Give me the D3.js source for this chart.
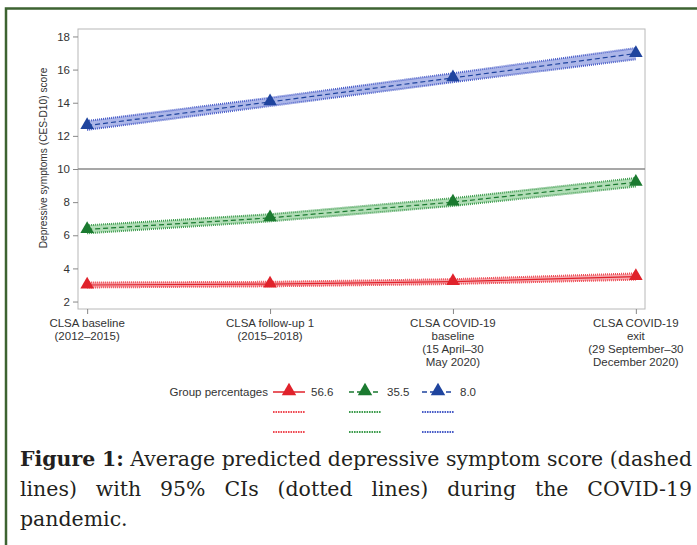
<!DOCTYPE html>
<html>
<head>
<meta charset="utf-8">
<script src="https://cdn.jsdelivr.net/npm/d3@7"></script>
<style>
  html, body { margin: 0; padding: 0; background: #fff; }
  svg { display: block; }
</style>
</head>
<body>
<svg id="chart" width="697" height="545"></svg>
<script>
// ---- data ----
const categories = ["CLSA baseline", "CLSA follow-up 1", "CLSA COVID-19 baseline", "CLSA COVID-19 exit"];
const categoryLines = [
  ["CLSA baseline", "(2012–2015)"],
  ["CLSA follow-up 1", "(2015–2018)"],
  ["CLSA COVID-19", "baseline", "(15 April–30", "May 2020)"],
  ["CLSA COVID-19", "exit", "(29 September–30", "December 2020)"]
];
const yTicks = [2, 4, 6, 8, 10, 12, 14, 16, 18];
const groupNames = ["56.6", "35.5", "8.0"];

const redMean  = [3.0, 3.05, 3.2, 3.5];
const redLow   = [2.85, 2.92, 3.06, 3.32];
const redHigh  = [3.15, 3.19, 3.35, 3.7];

const greenMean = [6.35, 7.05, 8.0, 9.2];
const greenLow  = [6.12, 6.84, 7.77, 8.94];
const greenHigh = [6.6, 7.27, 8.24, 9.46];

const blueMean = [12.62, 14.05, 15.5, 16.97];
const blueLow  = [12.36, 13.8, 15.24, 16.62];
const blueHigh = [12.9, 14.3, 15.78, 17.3];

const captionBold = ["Figure", "1:"];
const captionLines = [
  "Average predicted depressive symptom score (dashed",
  "lines) with 95% CIs (dotted lines) during the COVID-19",
  "pandemic."
];
const yLabel = "Depressive symptoms (CES-D10) score";
const legendTitle = "Group percentages";

// ---- styles ----
const series = [
  { name: groupNames[0], mean: redMean, low: redLow, high: redHigh, dark: "#e0222b", band: "#f5a0a5", edge: "#ee4a53", dash: null },
  { name: groupNames[1], mean: greenMean, low: greenLow, high: greenHigh, dark: "#1b7a30", band: "#a8d9ae", edge: "#3f9c4f", dash: "5,3" },
  { name: groupNames[2], mean: blueMean, low: blueLow, high: blueHigh, dark: "#1f449e", band: "#a3aee6", edge: "#4a5ec8", dash: "5,3" }
];

const svg = d3.select("#chart");
const W = 697, H = 545;
const plot = { left: 78, right: 645, top: 29, bottom: 309 };

// outer frame (green)
svg.append("path")
  .attr("d", `M6,${H} L6,8.5 L${W},8.5`)
  .attr("fill", "none").attr("stroke", "#3d6331").attr("stroke-width", 2.5);

const x = d3.scalePoint().domain(categories).range([plot.left, plot.right]).padding(0.05);
const y = d3.scaleLinear().domain([1.55, 18.45]).range([plot.bottom, plot.top]);

// plot frame
svg.append("rect")
  .attr("x", plot.left).attr("y", plot.top)
  .attr("width", plot.right - plot.left).attr("height", plot.bottom - plot.top)
  .attr("fill", "none").attr("stroke", "#b8b8b8").attr("stroke-width", 1);

// y axis
const yAxis = d3.axisLeft(y).tickValues(yTicks).tickSize(5).tickPadding(3);
const gy = svg.append("g").attr("transform", `translate(${plot.left},0)`).call(yAxis);
gy.select(".domain").remove();
gy.selectAll("line").attr("stroke", "#888");
gy.selectAll("text").attr("font-family", "Liberation Sans, Arial, sans-serif").attr("font-size", 11.5).attr("fill", "#333");

// x axis
const xAxis = d3.axisBottom(x).tickSize(5).tickFormat("");
const gx = svg.append("g").attr("transform", `translate(0,${plot.bottom})`).call(xAxis);
gx.select(".domain").remove();
gx.selectAll("line").attr("stroke", "#888");
categories.forEach((c, i) => {
  const t = svg.append("text")
    .attr("x", x(c)).attr("y", 327)
    .attr("text-anchor", "middle")
    .attr("font-family", "Liberation Sans, Arial, sans-serif")
    .attr("font-size", 11.5).attr("fill", "#333");
  categoryLines[i].forEach((ln, j) => {
    t.append("tspan").attr("x", x(c)).attr("dy", j === 0 ? 0 : 13).text(ln);
  });
});

// y label
svg.append("text")
  .attr("transform", `translate(47,158) rotate(-90)`)
  .attr("text-anchor", "middle")
  .attr("font-family", "Liberation Sans, Arial, sans-serif")
  .attr("font-size", 10.2).attr("fill", "#333")
  .text(yLabel);

// reference line at 10
svg.append("line")
  .attr("x1", plot.left).attr("x2", plot.right)
  .attr("y1", y(10)).attr("y2", y(10))
  .attr("stroke", "#8a8a8a").attr("stroke-width", 1.5);

// series
const line = d3.line().x(d => x(d[0])).y(d => y(d[1]));
const area = d3.area().x(d => x(d[0])).y0(d => y(d[1])).y1(d => y(d[2]));
series.forEach(s => {
  const pts = categories.map((c, i) => [c, s.low[i], s.high[i]]);
  svg.append("path").attr("d", area(pts)).attr("fill", s.band).attr("opacity", 0.9);
  [s.low, s.high].forEach(arr => {
    svg.append("path").attr("d", line(categories.map((c, i) => [c, arr[i]])))
      .attr("fill", "none").attr("stroke", s.edge).attr("stroke-width", 2)
      .attr("stroke-dasharray", "1,1");
  });
  const m = svg.append("path").attr("d", line(categories.map((c, i) => [c, s.mean[i]])))
    .attr("fill", "none").attr("stroke", s.dark).attr("stroke-width", 1.2);
  if (s.dash) m.attr("stroke-dasharray", s.dash);
  svg.selectAll(null).data(categories).enter().append("path")
    .attr("d", d3.symbol(d3.symbolTriangle, 80)())
    .attr("transform", (c, i) => `translate(${x(c)},${y(s.mean[i]) - 0.5})`)
    .attr("fill", s.dark);
});

// legend
const lg = svg.append("g").attr("font-family", "Liberation Sans, Arial, sans-serif").attr("font-size", 11.5).attr("fill", "#333");
lg.append("text").attr("x", 268).attr("y", 396).attr("text-anchor", "end").text(legendTitle);
const legendX = d3.scaleOrdinal().domain(groupNames).range([273, 349, 422]);
series.forEach(s => {
  const x0 = legendX(s.name), x1 = x0 + 32;
  const ll = lg.append("line").attr("x1", x0).attr("x2", x1).attr("y1", 392).attr("y2", 392)
    .attr("stroke", s.dark).attr("stroke-width", 1.5);
  if (s.dash) ll.attr("stroke-dasharray", "5,3");
  lg.append("path").attr("d", d3.symbol(d3.symbolTriangle, 90)())
    .attr("transform", `translate(${(x0 + x1) / 2},391)`).attr("fill", s.dark);
  lg.append("text").attr("x", x1 + 6).attr("y", 396).text(s.name);
  [412, 432].forEach(yy => {
    lg.append("line").attr("x1", x0).attr("x2", x1).attr("y1", yy).attr("y2", yy)
      .attr("stroke", s.edge).attr("stroke-width", 2.2).attr("stroke-dasharray", "1.6,0.9");
  });
});

// caption (justified)
const capLeft = 20, capRight = 692;
const capG = svg.append("g").attr("font-family", "'DejaVu Serif', 'Liberation Serif', serif")
  .attr("fill", "#231f20");
const baselines = [466, 496, 526];
const lineItems = captionLines.map((ln, li) => {
  const items = [];
  if (li === 0) captionBold.forEach(w => items.push({ t: w, b: true }));
  ln.split(" ").forEach(w => items.push({ t: w, b: false }));
  return items;
});
function measure(items, fs) {
  const nodes = items.map(it => capG.append("text").attr("font-size", fs)
    .attr("font-weight", it.b ? "bold" : "normal").text(it.t));
  const w = nodes.map(n => n.node().getComputedTextLength());
  nodes.forEach(n => n.remove());
  return w;
}
// font size chosen so line 1 fits the width with normal spaces
const baseFs = 20;
const w0 = measure(lineItems[0], baseFs);
const natural = d3.sum(w0) + 0.32 * baseFs * (lineItems[0].length - 1);
const capFont = Math.min(23, baseFs * (capRight - capLeft) / natural);
capG.attr("font-size", capFont);
lineItems.forEach((items, li) => {
  const nodes = items.map(it => capG.append("text")
    .attr("y", baselines[li]).attr("font-weight", it.b ? "bold" : "normal").text(it.t));
  const widths = nodes.map(n => n.node().getComputedTextLength());
  const total = d3.sum(widths);
  const last = li === lineItems.length - 1;
  const gap = last ? capFont * 0.32 : (capRight - capLeft - total) / (items.length - 1);
  let cx = capLeft;
  nodes.forEach((n, i) => { n.attr("x", cx); cx += widths[i] + gap; });
});
</script>
</body>
</html>
